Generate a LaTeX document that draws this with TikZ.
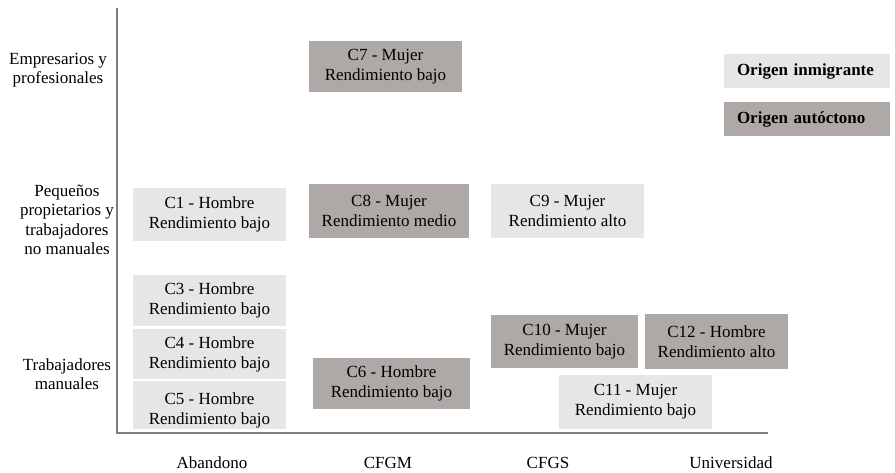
\documentclass[tikz,border=0pt]{standalone}
\usepackage{fontspec}
\setmainfont{Liberation Serif}

\begin{document}
\begin{tikzpicture}[
  x=1pt, y=-1pt,
  inmig/.style={fill=inmigcol, inner sep=0, align=center, font=\fontsize{17}{20}\selectfont},
  autoc/.style={fill=autoccol, inner sep=0, align=center, font=\fontsize{17}{20}\selectfont},
  legbox/.style={minimum width=166, minimum height=34, text width=140, align=left,
    font=\fontsize{17}{20}\selectfont\bfseries},
  ylab/.style={align=center, font=\fontsize{17}{19.5}\selectfont},
  xlab/.style={font=\fontsize{17}{20}\selectfont}
]
\definecolor{inmigcol}{HTML}{E6E6E6}
\definecolor{autoccol}{HTML}{AEA9A7}
\definecolor{axiscol}{HTML}{7F7F7F}

\useasboundingbox (0,0) rectangle (895,472);

% axes
\coordinate (top) at (117,8);
\coordinate (orig) at (117,433);
\coordinate (right) at (768,433);
\draw [axiscol, line width=1.5pt] (top) -- (orig) -- (right);

\node [ylab] (yemp) at (58,70) {Empresarios y\\profesionales};
\node [ylab] (ypeq) at (67,220) {Pequeños\\propietarios y\\trabajadores\\no manuales};
\node [ylab] (ytra) at (67,374) {Trabajadores\\manuales};

\node [xlab] (xaba) at (212,463) {Abandono};
\node [xlab] (xcfgm) at (388,463) {CFGM};
\node [xlab] (xcfgs) at (548,463) {CFGS};
\node [xlab] (xuni) at (731,463) {Universidad};

\node [autoc, minimum width=153, minimum height=51] (c7) at (385.5,66.5) {C7 - Mujer\\Rendimiento bajo};
\node [inmig, minimum width=153, minimum height=53] (c1) at (209.5,214.5) {C1 - Hombre\\Rendimiento bajo};
\node [autoc, minimum width=160, minimum height=54] (c8) at (389,211) {C8 - Mujer\\Rendimiento medio};
\node [inmig, minimum width=153, minimum height=54] (c9) at (567.5,211) {C9 - Mujer\\Rendimiento alto};
\node [inmig, minimum width=153, minimum height=51] (c3) at (209.5,300.5) {C3 - Hombre\\Rendimiento bajo};
\node [inmig, minimum width=153, minimum height=50] (c4) at (209.5,354) {C4 - Hombre\\Rendimiento bajo};
\node [inmig, minimum width=153, minimum height=48] (c5) at (209.5,405) {};
\begin{scope}
  \clip (c5.north west) rectangle (c5.south east);
  \node [font=\fontsize{17}{20}\selectfont, align=center, inner sep=0] (c5t) at (209.5,410) {C5 - Hombre\\Rendimiento bajo};
\end{scope}
\node [autoc, minimum width=157, minimum height=51] (c6) at (391.5,383.5) {C6 - Hombre\\Rendimiento bajo};
\node [autoc, minimum width=147, minimum height=53] (c10) at (564.5,341.5) {C10 - Mujer\\Rendimiento bajo};
\node [autoc, minimum width=143, minimum height=55] (c12) at (716.5,341.5) {C12 - Hombre\\Rendimiento alto};
\node [inmig, minimum width=153, minimum height=54] (c11) at (635.5,402) {C11 - Mujer\\Rendimiento bajo};

% legend
\node [inmig, legbox] (leg1) at (807,71) {Origen inmigrante};
\node [autoc, legbox] (leg2) at (807,119) {Origen autóctono};

\end{tikzpicture}
\end{document}
